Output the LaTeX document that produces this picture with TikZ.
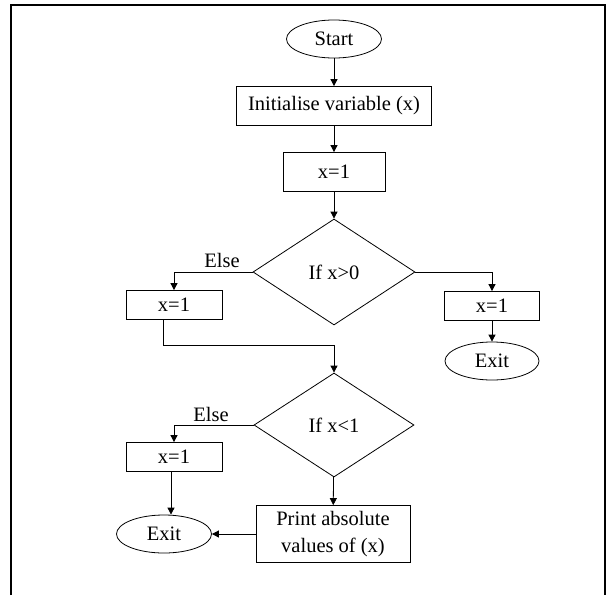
\documentclass[tikz,border=0pt]{standalone}
\usepackage{fontspec}
\setmainfont{Liberation Serif}
\usetikzlibrary{shapes.geometric,arrows.meta}
\begin{document}
\begin{tikzpicture}[x=1pt,y=-1pt,
  every node/.style={font=\fontsize{20.5}{27}\selectfont, inner sep=0pt},
  box/.style={draw, line width=0.8pt, rectangle, align=center},
  term/.style={draw, line width=0.8pt, ellipse, minimum width=95pt, minimum height=38pt},
  decide/.style={draw, line width=0.8pt, diamond, minimum width=162pt, minimum height=106pt},
  link/.style={line width=0.8pt, -{Triangle[width=7pt,length=7pt]}},
  plainlink/.style={line width=0.8pt},
  frameline/.style={line width=2.2pt}]
\useasboundingbox (0,0) rectangle (613,595);
% frame
\draw[frameline] (11,595) -- (11,5) -- (605,5) -- (605,595);
% nodes
\node[term] (start) at (334,39) {Start};
\node[box, minimum width=195pt, minimum height=39pt] (init) at (334,106) {Initialise variable (x)};
\node[box, minimum width=102pt, minimum height=39pt] (b1) at (334,172) {x=1};
\node[decide] (d1) at (334,272) {If x>0};
\node (else1) at (222,260) {Else};
\node[box, minimum width=96pt, minimum height=29pt] (l1) at (174,305) {x=1};
\node[box, minimum width=95pt, minimum height=29pt] (r1) at (492,306) {x=1};
\node[term, minimum width=94pt] (exit1) at (492,361) {Exit};
\node[decide, minimum width=160pt, minimum height=104pt] (d2) at (334,425) {If x<1};
\node (else2) at (211,414) {Else};
\node[box, minimum width=96pt, minimum height=29pt] (l2) at (174,457) {x=1};
\node[term] (exit2) at (164,534) {Exit};
\node[box, minimum width=154pt, minimum height=57pt] (print) at (333,534) {Print absolute\\values of (x)};
\coordinate (j1) at (163,345);
% connectors
\draw[link] (start) -- (init);
\draw[link] (init) -- (b1);
\draw[link] (b1) -- (d1);
\draw[link] (d1.west) -| (l1.north);
\draw[link] (d1.east) -| (r1.north);
\draw[link] (r1) -- (exit1);
\draw[plainlink] (l1.south -| j1) -- (j1) -- (j1 -| d2.north);
\draw[link] (j1 -| d2.north) -- (d2.north);
\draw[link] (d2.west) -| (l2.north);
\draw[link] ([xshift=-3pt]l2.south) -- ([xshift=-3pt]l2.south |- exit2.north);
\draw[link] (d2) -- (print);
\draw[link] (print.west) -- (exit2.east);
\end{tikzpicture}
\end{document}
